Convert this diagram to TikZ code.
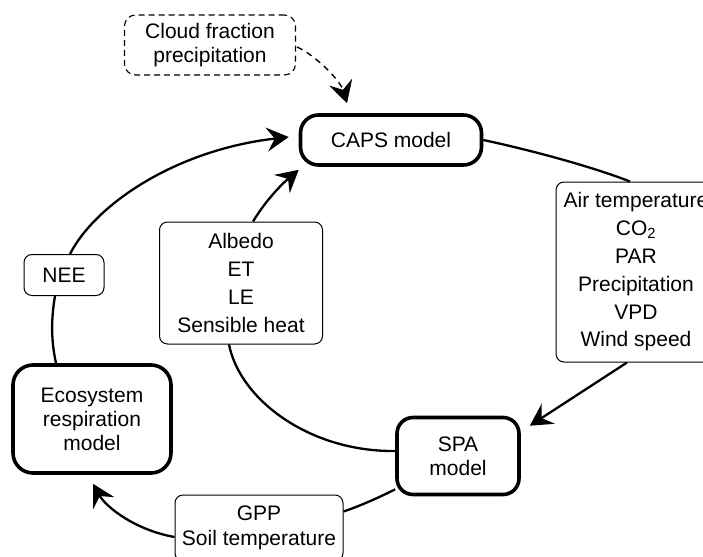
\documentclass[tikz,border=0pt]{standalone}
\usepackage{fontspec}
\setmainfont{Liberation Sans}
\usetikzlibrary{arrows.meta}
\begin{document}
\begin{tikzpicture}[x=1pt,y=-1pt,
  every node/.style={font=\fontsize{21}{24}\selectfont, align=center, inner sep=0pt},
  loose/.style={font=\fontsize{21}{27.8}\selectfont},
  thickbox/.style={draw, line width=3.6pt, rounded corners=18pt},
  thinbox/.style={draw, line width=1pt, rounded corners=8pt},
  dashbox/.style={draw, line width=1.1pt, dash pattern=on 6pt off 4pt, rounded corners=11pt},
  conn/.style={line width=2.3pt},
  arrowed/.style={-{Stealth[length=22pt,width=24pt,inset=8pt]}},
]
\useasboundingbox (0,0) rectangle (703,556);
\clip (0,0) rectangle (703,556);

% nodes
\node[dashbox, minimum width=171pt, minimum height=60pt] (cloud) at (210,45) {Cloud fraction\\precipitation};
\node[thickbox, minimum width=181pt, minimum height=50pt] (caps) at (391,140) {CAPS model};
\node[thinbox, loose, minimum width=160pt, minimum height=180pt] (air) at (636,272)
  {Air temperature\\CO\textsubscript{2}\\PAR\\Precipitation\\VPD\\Wind speed};
\node[thinbox, loose, minimum width=163pt, minimum height=122pt] (albedo) at (241,283)
  {Albedo\\ET\\LE\\Sensible heat};
\node[thinbox, minimum width=80pt, minimum height=41pt] (nee) at (64,275) {NEE};
\node[thickbox, rounded corners=20pt, minimum width=158pt, minimum height=108pt] (eco) at (92,419)
  {Ecosystem\\respiration\\model};
\node[thickbox, rounded corners=16pt, minimum width=122pt, minimum height=77pt] (spa) at (458,456)
  {SPA\\model};
\node[thinbox, font=\fontsize{21}{25}\selectfont, minimum width=168pt, minimum height=66pt] (gpp) at (259,528)
  {GPP\\Soil temperature};

% connectors
\draw[conn] (caps.east) .. controls (530,150) and (590,166) .. ([shift={(-6,0)}]air.north);
\draw[conn, arrowed] ([shift={(-9,0)}]air.south) -- ([shift={(9,10)}]spa.north east);
\draw[conn] ([shift={(0,-7)}]spa.south west) .. controls (380,497) and (360,506) .. ([shift={(0,17)}]gpp.north east);
\draw[conn, arrowed] ([shift={(0,9)}]gpp.west) .. controls (135,530) and (106,507) .. ([shift={(1,9)}]eco.south);
\draw[conn] ([shift={(-36,0)}]eco.north) .. controls (51,340) and (51,320) .. ([shift={(-9,0)}]nee.south);
\draw[conn, arrowed] ([shift={(6,0)}]nee.north) .. controls (95,205) and (175,150) .. ([shift={(-10,-3)}]caps.west);
\draw[conn, arrowed] ([shift={(12,0)}]albedo.north) .. controls (266,200) and (282,184) .. ([shift={(0,3)}]caps.south west);
\draw[conn] ([shift={(-12,0)}]albedo.south) .. controls (240,400) and (310,452) .. ([shift={(0,-5)}]spa.west);
\draw[line width=1.4pt, dash pattern=on 6pt off 5pt, arrowed] ([shift={(1,2)}]cloud.east) .. controls (315,55) and (340,80) .. ([shift={(-44,-10)}]caps.north);
\end{tikzpicture}
\end{document}
